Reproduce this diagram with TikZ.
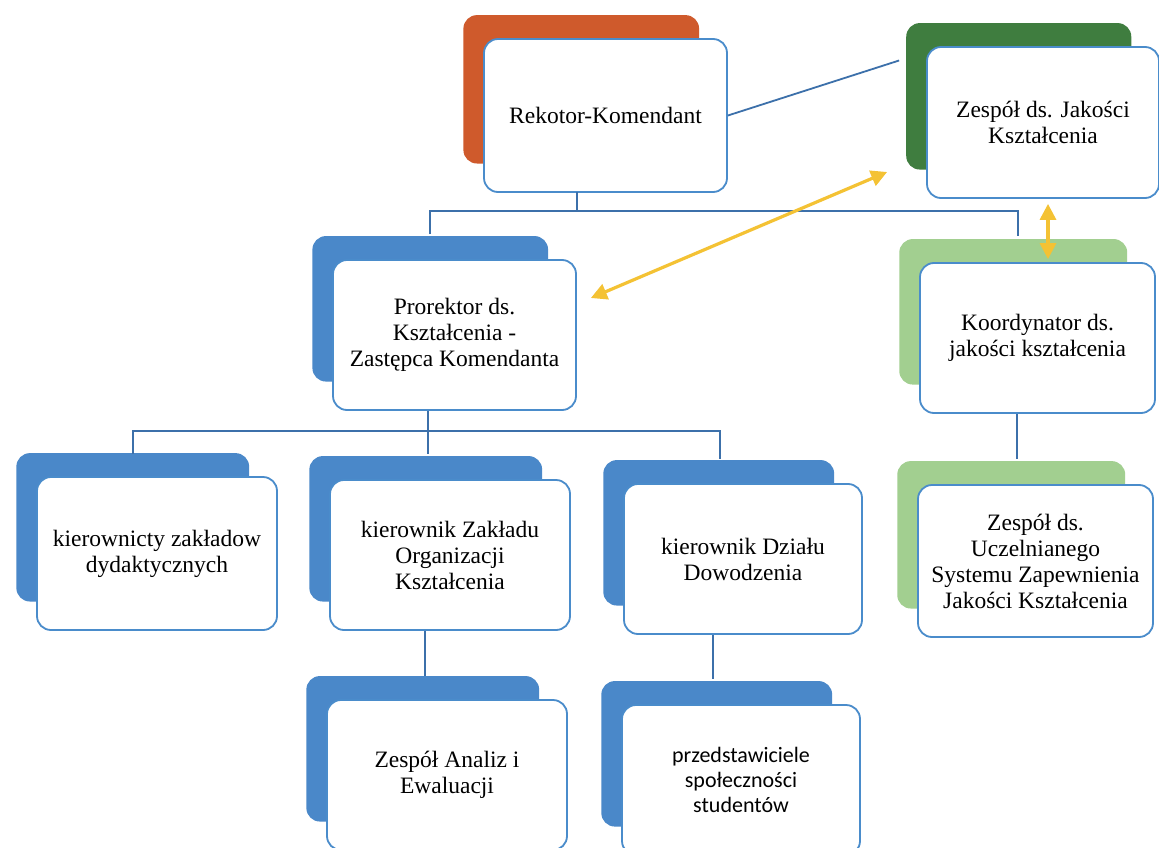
\documentclass[tikz,border=0pt]{standalone}
\usepackage{fontspec}
\setmainfont{Liberation Serif}
\newfontfamily\carl{Carlito}
\usetikzlibrary{shadows,arrows.meta,calc}
\definecolor{orangeR}{HTML}{CF5A2C}
\definecolor{darkG}{HTML}{3F7D3F}
\definecolor{blueB}{HTML}{4A88C9}
\definecolor{lightG}{HTML}{A2CF90}
\definecolor{cardline}{HTML}{4A8CCB}
\definecolor{connblue}{HTML}{3C70AA}
\definecolor{yellowA}{HTML}{F4C234}
\tikzset{
  card/.style={draw=cardline, line width=1.8pt, rounded corners=14pt, fill=white,
    minimum width=240pt, minimum height=151pt, align=center,
    font=\fontsize{23.5}{26}\selectfont, inner sep=4pt},
  backc/.style={general shadow={fill=#1, shadow xshift=-25pt, shadow yshift=27pt, shadow scale=0.97}},
  conn/.style={draw=connblue, line width=1.8pt},
  yarrow/.style={draw=yellowA, line width=3.2pt,
    {Triangle[length=16pt,width=16pt]}-{Triangle[length=16pt,width=16pt]}},
}
\begin{document}
\begin{tikzpicture}[x=1pt,y=-1pt]
\useasboundingbox[fill=white] (0,0) rectangle (1159,848);
% cards
\node[card, backc=orangeR, minimum width=243pt, minimum height=153pt] (rek) at (605.5,115.5) {Rekotor-Komendant};
\node[card, backc=darkG, minimum width=232pt, minimum height=151pt] (zjk) at (1043,122.5) {Zespół ds. Jakości\\Kształcenia};
\node[card, backc=blueB, minimum width=243pt, minimum height=150pt] (pro) at (454.5,335) {Prorektor ds.\\Kształcenia -\\Zastępca Komendanta};
\node[card, backc=lightG, minimum width=235pt, minimum height=150pt] (koo) at (1037.5,338) {Koordynator ds.\\jakości kształcenia};
\node[card, backc=lightG, minimum width=235pt, minimum height=152pt] (usz) at (1035.5,561) {Zespół ds.\\Uczelnianego\\Systemu Zapewnienia\\Jakości Kształcenia};
\node[card, backc=blueB, minimum width=240pt, minimum height=153pt] (kie) at (157,553.5) {kierownicty zakładow\\dydaktycznych};
\node[card, backc=blueB, minimum width=240pt, minimum height=150pt] (zok) at (450,555) {kierownik Zakładu\\Organizacji\\Kształcenia};
\node[card, backc=blueB, minimum width=238pt, minimum height=150pt] (dd) at (743,559) {kierownik Działu\\Dowodzenia};
\node[card, backc=blueB, minimum width=240pt, minimum height=150pt] (zae) at (447,775) {Zespół Analiz i\\Ewaluacji};
\node[card, backc=blueB, minimum width=238pt, minimum height=150pt, font=\carl\fontsize{22}{25}\selectfont] (prz) at (741,780) {przedstawiciele\\społeczności\\studentów};
% connectors
\draw[conn] (rek.east) -- ([xshift=-27pt,yshift=62pt]zjk.west);
\draw[conn] ([xshift=-28.5pt,yshift=0.5pt]rek.south) -- ++(0,18.5) coordinate (j1);
\draw[conn] ([xshift=-24.5pt,yshift=25pt]pro.north) |- (j1) -| ([xshift=-19.5pt,yshift=26pt]koo.north);
\draw[conn] ([xshift=-26.5pt]pro.south) -- ++(0,20) coordinate (j2);
\draw[conn] ([xshift=-24pt,yshift=22pt]kie.north) |- (j2) -| ([xshift=-23pt,yshift=24pt]dd.north);
\draw[conn] (j2) -- ([xshift=-22pt,yshift=25pt]zok.north);
\draw[conn] ([xshift=-25pt]zok.south) -- ([xshift=-22pt,yshift=23pt]zae.north);
\draw[conn] ([xshift=-30pt]dd.south) -- ([xshift=-28pt,yshift=25pt]prz.north);
\draw[conn] ([xshift=-20.5pt]koo.south) -- ([xshift=-18.5pt,yshift=25pt]usz.north);
% yellow arrows
\draw[yarrow] ([xshift=14pt,yshift=37pt]pro.east) -- ([xshift=-39pt,yshift=-49.5pt]zjk.west);
\draw[yarrow] ([xshift=5pt,yshift=-5pt]zjk.south) -- ([xshift=10.5pt,yshift=3pt]koo.north);
\end{tikzpicture}
\end{document}
